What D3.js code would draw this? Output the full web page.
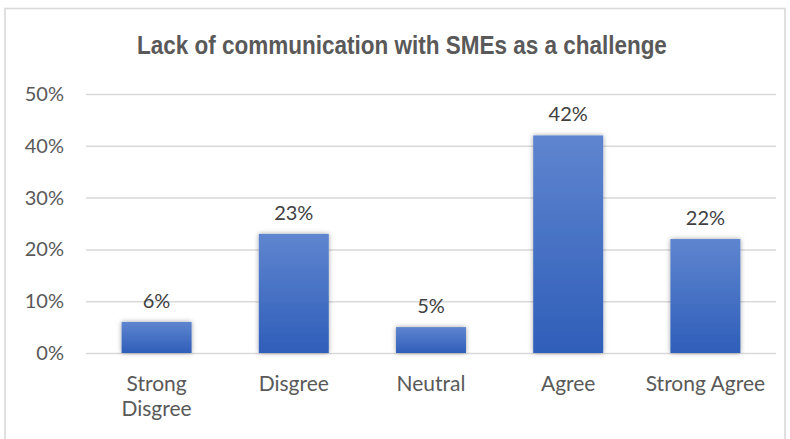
<!DOCTYPE html>
<html>
<head>
<meta charset="utf-8">
<script src="https://cdn.jsdelivr.net/npm/d3@7"></script>
<style>
  html, body { margin: 0; padding: 0; background: #fff; }
  svg { display: block; }
</style>
</head>
<body>
<svg id="chart" width="790" height="439"></svg>
<script>
// Survey responses
const categories = ["Strong Disgree", "Disgree", "Neutral", "Agree", "Strong Agree"];
const shares = [0.06, 0.23, 0.05, 0.42, 0.22];
const valueLabels = ["6%", "23%", "5%", "42%", "22%"];
const tickValues = [0, 0.1, 0.2, 0.3, 0.4, 0.5];
const tickLabels = ["0%", "10%", "20%", "30%", "40%", "50%"];
const title = "Lack of communication with SMEs as a challenge";

const svg = d3.select("#chart");
const W = 790, H = 439;
const margin = { left: 88, right: 16, top: 94, bottom: 86 };
const bodyFont = "Lato, 'Open Sans', sans-serif";

// chart frame
svg.append("rect")
  .attr("x", 5).attr("y", 8.5)
  .attr("width", W - 10).attr("height", H)
  .attr("fill", "#fff").attr("stroke", "#d9d9d9").attr("stroke-width", 1.6);

const defs = svg.append("defs");
const grad = defs.append("linearGradient")
  .attr("id", "barFill").attr("x1", 0).attr("y1", 0).attr("x2", 0).attr("y2", 1);
grad.append("stop").attr("offset", "0%").attr("stop-color", "#5f85cf");
grad.append("stop").attr("offset", "100%").attr("stop-color", "#2f5eb9");

const shadow = defs.append("filter").attr("id", "barShadow")
  .attr("x", "-20%").attr("y", "-20%").attr("width", "140%").attr("height", "140%");
shadow.append("feDropShadow")
  .attr("dx", 0).attr("dy", 0).attr("stdDeviation", 2.6)
  .attr("flood-color", "#000").attr("flood-opacity", 0.36);

const x = d3.scaleBand()
  .domain(categories)
  .range([margin.left, W - margin.right])
  .paddingInner(0.49).paddingOuter(0.245);

const y = d3.scaleLinear()
  .domain([0, 0.5])
  .range([H - margin.bottom, margin.top]);

// title, condensed horizontally
svg.append("g")
  .attr("transform", "translate(402,54) scale(0.9,1)")
  .append("text")
  .attr("x", 0).attr("y", 0)
  .attr("text-anchor", "middle")
  .attr("font-family", "'Liberation Sans', Arial, sans-serif")
  .attr("font-weight", "bold")
  .attr("font-size", 25)
  .attr("fill", "#595959")
  .text(title);

// y axis with gridlines
const yAxis = d3.axisLeft(y)
  .tickValues(tickValues)
  .tickFormat((d, i) => tickLabels[i])
  .tickSize(-(W - margin.right - margin.left + 4))
  .tickPadding(22);

const gy = svg.append("g")
  .attr("transform", `translate(${margin.left - 2},0)`)
  .call(yAxis);
gy.select(".domain").remove();
gy.selectAll(".tick line").attr("stroke", "#d9d9d9").attr("stroke-width", 1.5);
gy.selectAll(".tick text")
  .attr("fill", "#595959")
  .attr("font-family", bodyFont)
  .attr("font-size", 20);

// bars
svg.append("g").selectAll("rect")
  .data(shares)
  .join("rect")
  .attr("x", (d, i) => x(categories[i]))
  .attr("y", d => y(d))
  .attr("width", x.bandwidth())
  .attr("height", d => y(0) - y(d))
  .attr("fill", "url(#barFill)")
  .attr("filter", "url(#barShadow)");

// value labels
svg.append("g").selectAll("text")
  .data(shares)
  .join("text")
  .attr("x", (d, i) => x(categories[i]) + x.bandwidth() / 2)
  .attr("y", d => y(d) - 14)
  .attr("text-anchor", "middle")
  .attr("font-family", bodyFont)
  .attr("font-size", 20)
  .attr("fill", "#404040")
  .text((d, i) => valueLabels[i]);

// category labels (wrapped onto two lines where needed)
const catLines = {
  "Strong Disgree": ["Strong", "Disgree"]
};
const xl = svg.append("g").selectAll("text")
  .data(categories)
  .join("text")
  .attr("x", d => x(d) + x.bandwidth() / 2)
  .attr("y", 391)
  .attr("text-anchor", "middle")
  .attr("font-family", bodyFont)
  .attr("font-size", 21)
  .attr("fill", "#595959");
xl.each(function(d) {
  const lines = catLines[d] || [d];
  const t = d3.select(this);
  lines.forEach((ln, j) => {
    t.append("tspan")
      .attr("x", x(d) + x.bandwidth() / 2)
      .attr("dy", j === 0 ? 0 : 25)
      .text(ln);
  });
});
</script>
</body>
</html>
